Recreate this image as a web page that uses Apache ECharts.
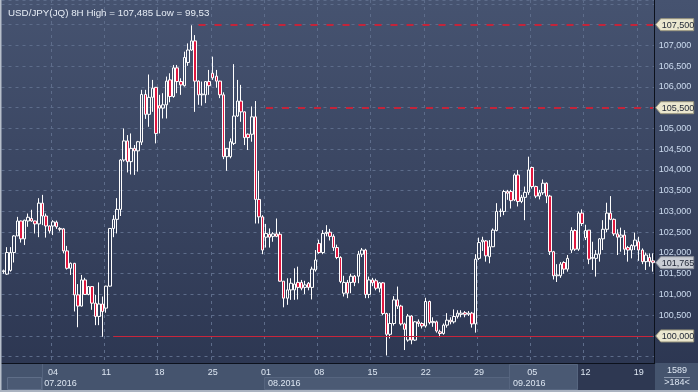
<!DOCTYPE html>
<html><head><meta charset="utf-8">
<script src="https://cdn.jsdelivr.net/npm/echarts@6/dist/echarts.min.js"></script>
<style>html,body{margin:0;padding:0;background:#2e3853}#c{width:698px;height:392px}</style>
</head><body><div id="c"></div><script>
// ---- data (8H bars, USD/JPY) ----
const firstBar = [2016, 5, 27, 8]; // 27 Jun 2016 08:00 (UTC), weekdays only
const barCount = 184;
const opens = [
101.55,101.49,101.58,102.01,102.41,102.77,102.34,102.77,102.83,102.77,
102.70,103.20,102.89,102.65,102.65,102.74,102.59,102.58,102.05,101.63,
101.75,100.99,100.72,101.35,101.00,101.19,100.79,100.47,100.77,100.67,
101.20,102.59,102.81,103.05,104.24,104.70,104.20,104.52,104.46,104.67,
105.82,105.34,105.75,105.99,105.55,105.49,105.57,106.17,105.77,106.46,
106.13,106.03,106.59,106.89,107.11,106.14,105.81,105.81,106.13,106.33,
106.26,106.14,105.81,104.32,104.32,104.64,105.30,105.66,105.40,104.86,
104.86,105.28,103.29,102.87,102.38,102.45,102.40,102.46,102.45,101.32,
100.91,101.11,101.11,101.29,101.29,101.17,101.27,101.17,101.59,102.23,
102.01,102.47,102.50,102.40,102.13,101.89,101.03,101.29,101.29,101.44,
101.44,101.97,102.07,101.00,101.35,101.33,101.15,101.28,100.54,100.04,
100.30,100.87,100.72,100.29,99.90,100.48,99.90,100.34,100.30,100.24,
100.83,100.32,100.34,100.10,100.06,100.26,100.38,100.34,100.47,100.52,
100.56,100.52,100.55,100.29,101.87,102.27,102.29,101.91,102.15,102.54,
103.00,103.00,103.48,103.48,103.28,103.88,103.24,103.34,103.46,104.06,
103.60,103.37,103.45,103.68,103.37,102.03,101.45,101.45,101.77,101.61,
102.07,102.54,102.09,102.96,102.37,102.55,101.87,101.87,101.97,102.34,
102.57,102.96,102.81,102.46,102.38,102.43,102.13,102.07,102.17,102.27,
102.07,101.79,101.89,101.81];
const closes = [
101.57,102.01,102.01,102.41,102.77,102.34,102.79,102.86,102.77,102.70,
103.20,102.89,102.65,102.53,102.75,102.63,102.57,102.05,101.63,101.75,
100.99,100.72,101.35,101.00,101.19,100.79,100.47,100.77,100.59,101.20,
102.59,102.81,103.05,104.24,104.70,104.20,104.52,104.46,104.68,105.82,
105.34,105.75,105.97,104.88,105.49,105.57,106.14,105.77,106.46,106.13,
106.05,106.71,106.89,107.11,106.14,105.81,105.83,106.13,106.03,106.22,
106.14,105.81,104.32,104.52,104.68,105.30,105.66,105.40,104.78,104.78,
105.28,103.29,102.87,102.07,102.47,102.38,102.46,102.40,101.32,100.91,
101.11,101.27,101.25,101.17,101.15,101.23,101.17,101.61,101.83,102.01,
102.47,102.50,102.40,102.13,101.89,101.31,101.29,101.03,101.44,101.29,
101.97,102.07,101.00,101.35,101.28,101.15,101.28,100.54,100.04,100.30,
100.87,100.72,100.29,100.16,100.48,99.90,100.34,100.30,100.24,100.83,
100.32,100.35,100.12,100.06,100.26,100.38,100.34,100.47,100.55,100.55,
100.52,100.55,100.29,101.85,102.25,102.31,101.93,102.15,102.55,103.00,
103.01,103.48,103.44,103.26,103.88,103.24,103.34,103.46,104.00,103.60,
103.37,103.45,103.68,103.37,102.03,101.45,101.47,101.73,101.61,101.87,
102.54,102.09,102.96,102.71,102.54,101.85,101.89,101.97,102.34,102.57,
102.96,102.81,102.46,102.38,102.43,102.09,102.07,102.18,102.31,102.07,
101.79,101.95,101.79,101.765];
const lows = [
101.50,101.47,101.55,101.77,102.41,102.25,102.19,102.63,102.75,102.47,
102.38,102.67,102.37,102.47,102.43,102.58,102.52,101.99,101.60,101.47,
100.59,100.21,100.71,100.99,100.98,100.63,100.26,100.26,99.98,100.56,
101.19,102.38,102.47,102.89,104.20,103.94,103.89,103.88,103.96,104.60,
105.23,105.04,105.40,104.64,104.88,105.24,105.24,105.63,105.74,105.85,
105.81,106.01,106.51,106.87,105.40,105.57,105.55,105.61,105.81,106.17,
105.98,105.73,104.26,103.98,104.28,104.60,105.28,105.16,104.60,104.48,
104.68,102.71,102.71,101.97,102.13,102.13,102.27,102.38,101.31,100.69,
100.75,100.87,100.87,100.88,101.10,101.01,101.10,100.88,101.55,101.98,
101.97,102.40,102.30,102.05,101.85,101.27,100.95,100.91,101.03,101.20,
101.27,101.90,100.91,100.91,101.20,101.10,101.05,100.50,99.53,99.94,
100.25,100.65,100.25,99.66,99.86,99.80,99.88,100.22,100.18,100.20,
100.28,100.22,100.08,99.97,100.03,100.20,100.28,100.30,100.42,100.45,
100.45,100.48,100.20,100.08,101.83,102.05,101.79,101.75,102.14,102.52,
102.87,102.91,103.28,103.07,103.25,103.12,103.20,102.79,103.40,103.55,
103.32,103.29,103.40,103.20,101.95,101.36,101.30,101.40,101.50,101.55,
102.00,102.05,102.05,102.65,102.31,101.73,101.59,101.43,101.79,102.07,
102.50,102.79,102.41,101.95,102.03,101.95,101.79,101.87,102.07,101.81,
101.73,101.59,101.67,101.55];
const highs = [
101.60,102.14,102.14,102.43,102.87,102.78,102.80,102.95,103.04,102.78,
103.32,103.40,102.95,102.66,102.79,102.78,102.62,102.60,102.17,101.77,
101.76,101.25,101.47,101.40,101.20,101.20,100.99,101.29,100.95,101.21,
102.60,102.91,103.32,104.26,105.00,104.84,104.88,104.60,104.70,105.93,
105.93,106.30,106.17,106.00,105.81,105.85,106.25,106.33,106.53,106.53,
106.21,106.85,107.05,107.485,107.25,106.16,106.13,106.14,106.41,106.73,
106.41,106.15,105.87,104.52,104.76,106.55,106.17,106.05,105.41,104.88,
105.53,105.66,103.98,102.91,102.70,102.59,102.50,102.83,102.51,101.32,
101.39,101.39,101.63,101.67,101.35,101.33,101.30,101.67,102.07,102.32,
102.55,102.67,102.58,102.45,102.20,101.92,101.45,101.35,101.50,101.47,
102.05,102.12,102.10,101.43,101.40,101.38,101.30,101.30,100.56,100.55,
100.96,101.19,100.75,100.32,100.53,100.50,100.36,100.40,100.33,100.92,
100.85,100.45,100.37,100.15,100.30,100.55,100.45,100.64,100.62,100.62,
100.60,100.60,100.58,101.97,102.37,102.39,102.31,102.31,102.59,103.20,
103.07,103.52,103.52,103.52,103.92,104.00,103.40,103.60,104.32,104.08,
103.62,103.52,103.77,103.70,103.40,102.05,101.73,101.78,101.80,101.95,
102.62,102.57,103.00,103.05,102.68,102.55,102.27,102.07,102.36,102.79,
103.21,103.37,102.83,102.57,102.61,102.55,102.17,102.21,102.49,102.39,
102.11,102.01,101.99,101.99];
const dayTicks = ['04','11','18','25','01','08','15','22','29','05','12','19'];
const monthLabels = ['07.2016','08.2016','09.2016'];
const dimFromTick = 10; // ticks from this one on are greyed
const titleText = 'USD/JPY(JQ) 8H High = 107,485 Low = 99,53';
const levels = [ // horizontal levels: value, first bar index, style
  {value:107.5, from:55, dashed:true},
  {value:105.5, from:74, dashed:true},
  {value:100.0, from:31, dashed:false}
];
const lastPrice = 101.765;
const shownTickRange = [100.0, 107.5];
const footer = ['1589', '>184<'];

// ---- build categories (8H bars, Mon-Fri) ----
const cats = [];
{
  let t = Date.UTC(firstBar[0], firstBar[1], firstBar[2], firstBar[3]);
  while (cats.length < barCount) {
    const d = new Date(t), wd = d.getUTCDay();
    if (wd >= 1 && wd <= 5) {
      const p = n => String(n).padStart(2,'0');
      cats.push(d.getUTCFullYear()+'-'+p(d.getUTCMonth()+1)+'-'+p(d.getUTCDate())+' '+p(d.getUTCHours())+':00');
    }
    t += 8*3600e3;
  }
}
const isWeekStart = v => { const d = new Date(v.replace(' ','T')+':00Z'); return d.getUTCDay()===1 && d.getUTCHours()===0; };
const mondayIdx = cats.map((v,i)=>isWeekStart(v)?i:-1).filter(i=>i>=0);
const monthStartIdx = cats.map((v,i)=> (i===0 || v.slice(0,7)!==cats[i-1].slice(0,7)) && v.slice(8,10)!=='27' ? i : -1).filter(i=>i>=0);
const candleData = opens.map((o,i)=>[o, closes[i], lows[i], highs[i]]);

// ---- layout (pixels) ----
const W = 698, H = 392, gridTop = 0, gridBottom = 29, gridLeft = 1.5, gridRight = 43.3;
// y scale: 107.5 at y=24.7, 41.5 px per unit
const yMax = 107.5 + (24.7 - gridTop) / 41.5;
const yMin = 107.5 - (H - gridBottom - 24.7) / 41.5;
const fmt = v => v.toFixed(3).replace('.', ',');
const tagged = levels.map(l=>l.value);

const FONT = 'Liberation Sans, Arial, sans-serif';
const chart = echarts.init(document.getElementById('c'), null, {renderer:'canvas'});
const option = {
  animation:false,
  backgroundColor: {type:'linear', x:0, y:0, x2:0, y2:1, colorStops:[{offset:0,color:'#465370'},{offset:1,color:'#2b3550'}]},
  textStyle:{fontFamily:FONT},
  title:{text:titleText, left:3, top:3, textStyle:{color:'#e6ecf5', fontSize:9.8, fontWeight:'normal', fontFamily:FONT}},
  grid:{left:gridLeft, right:gridRight, top:gridTop, bottom:gridBottom, containLabel:false},
  xAxis:[{
    type:'category', data:cats, boundaryGap:true,
    axisLine:{show:true, lineStyle:{color:'#0c111c', width:1}},
    axisTick:{show:false},
    axisLabel:{
      interval:(i)=>mondayIdx.includes(i),
      formatter:(v,i)=>dayTicks[mondayIdx.indexOf(i)],
      color:(v,i)=> (mondayIdx.indexOf(i)>=dimFromTick ? '#6c7893' : '#dde6f2'),
      fontSize:9, margin:5, fontFamily:FONT
    },
    splitLine:{show:true, interval:(i)=>mondayIdx.includes(i), lineStyle:{color:'#5d6c8a', type:[3,4], width:1}}
  },{
    type:'category', data:cats, boundaryGap:true, position:'bottom', offset:12,
    axisLine:{show:false}, axisTick:{show:false}, splitLine:{show:false},
    axisLabel:{
      interval:(i)=>monthStartIdx.includes(i),
      formatter:(v,i)=>monthLabels[monthStartIdx.indexOf(i)],
      color:'#dde6f2', fontSize:9, margin:4, align:'left', padding:[0,0,0,2], fontFamily:FONT
    }
  }],
  yAxis:{
    type:'value', position:'right', min:yMin, max:yMax, splitNumber:17, minInterval:0.5, maxInterval:0.5, scale:true,
    axisLine:{show:true, lineStyle:{color:'#0c111c', width:1}},
    axisTick:{show:false},
    axisLabel:{color:'#cddcf0', fontSize:9, margin:4, showMinLabel:false, showMaxLabel:false, fontFamily:FONT,
      formatter:v=> (v>shownTickRange[1]+1e-6 || v<shownTickRange[0]-1e-6 || tagged.some(t=>Math.abs(t-v)<1e-6)) ? '' : fmt(v)},
    splitLine:{show:true, lineStyle:{color:'#5d6c8a', type:[3,4], width:1}}
  },
  series:[{
    type:'candlestick', data:candleData, barWidth:3, large:false,
    itemStyle:{color:'rgba(0,0,0,0)', color0:'#e0173f', borderColor:'#ffffff', borderColor0:'#ffffff', borderColorDoji:'#ffffff', borderWidth:1},
    markLine:{
      silent:true, symbol:['none','none'], label:{show:false},
      data: levels.map(l=>[
        {coord:[l.from, l.value], lineStyle:{color:l.dashed?'#c3243a':'#c8253b', width:l.dashed?2:1, type:l.dashed?[7,9]:'solid'}},
        {coord:[cats.length-1, l.value]}
      ])
    }
  }]
};
chart.setOption(option);

// ---- decorations: bottom bar + price tags ----
const axisY = H - gridBottom;
const g = [];
g.push({type:'rect', z:-1, shape:{x:0,y:axisY,width:W,height:H-axisY}, style:{fill:'#45546e'}});
g.push({type:'rect', z:-1, shape:{x:7.5,y:377.5,width:34,height:12}, style:{fill:'#4b5a74', stroke:'#5f6e88'}});
g.push({type:'rect', z:-1, shape:{x:264.5,y:377.5,width:245,height:12}, style:{fill:'#4b5a74', stroke:'#56657f'}});
g.push({type:'rect', z:-1, shape:{x:509.5,y:364.5,width:68,height:25}, style:{fill:'#4a5973', stroke:'#56657f'}});
g.push({type:'rect', z:-1, shape:{x:578,y:364,width:77,height:26}, style:{fill:'#2e3852'}});
g.push({type:'line', z:-1, shape:{x1:42.5,y1:364,x2:42.5,y2:390}, style:{stroke:'#56657f'}});
g.push({type:'rect', z:10, shape:{x:0,y:0,width:1.5,height:H}, style:{fill:'#b7bfcb'}});
g.push({type:'rect', z:10, shape:{x:0,y:H-2,width:W,height:2}, style:{fill:'#aab3c0'}});
g.push({type:'line', z:10, shape:{x1:664,y1:377.5,x2:690,y2:377.5}, style:{stroke:'#8c99ae'}});
g.push({type:'text', z:10, x:677, y:371, style:{text:footer[0], fill:'#dde6f2', font:'9px '+FONT, align:'center', verticalAlign:'middle'}});
g.push({type:'text', z:10, x:677, y:383, style:{text:footer[1], fill:'#dde6f2', font:'9px '+FONT, align:'center', verticalAlign:'middle'}});
const tags = levels.map(l=>({value:l.value, fill:'#ebe7cf', stroke:'#9a977e'})).concat([{value:lastPrice, fill:'#c9cdd4', stroke:'#8b8f99'}]);
tags.forEach(t=>{
  const y = chart.convertToPixel({yAxisIndex:0}, t.value);
  const x0 = W - gridRight + 1;
  g.push({type:'polygon', z:20, shape:{points:[[x0,y],[x0+5,y-6],[x0+38,y-6],[x0+38,y+6],[x0+5,y+6]]}, style:{fill:t.fill, stroke:t.stroke, lineWidth:1}});
  g.push({type:'text', z:21, x:x0+6, y:y+0.5, style:{text:fmt(t.value), fill:'#1d2434', font:'9px '+FONT, verticalAlign:'middle'}});
});
chart.setOption({graphic:{elements:g}});
</script></body></html>
